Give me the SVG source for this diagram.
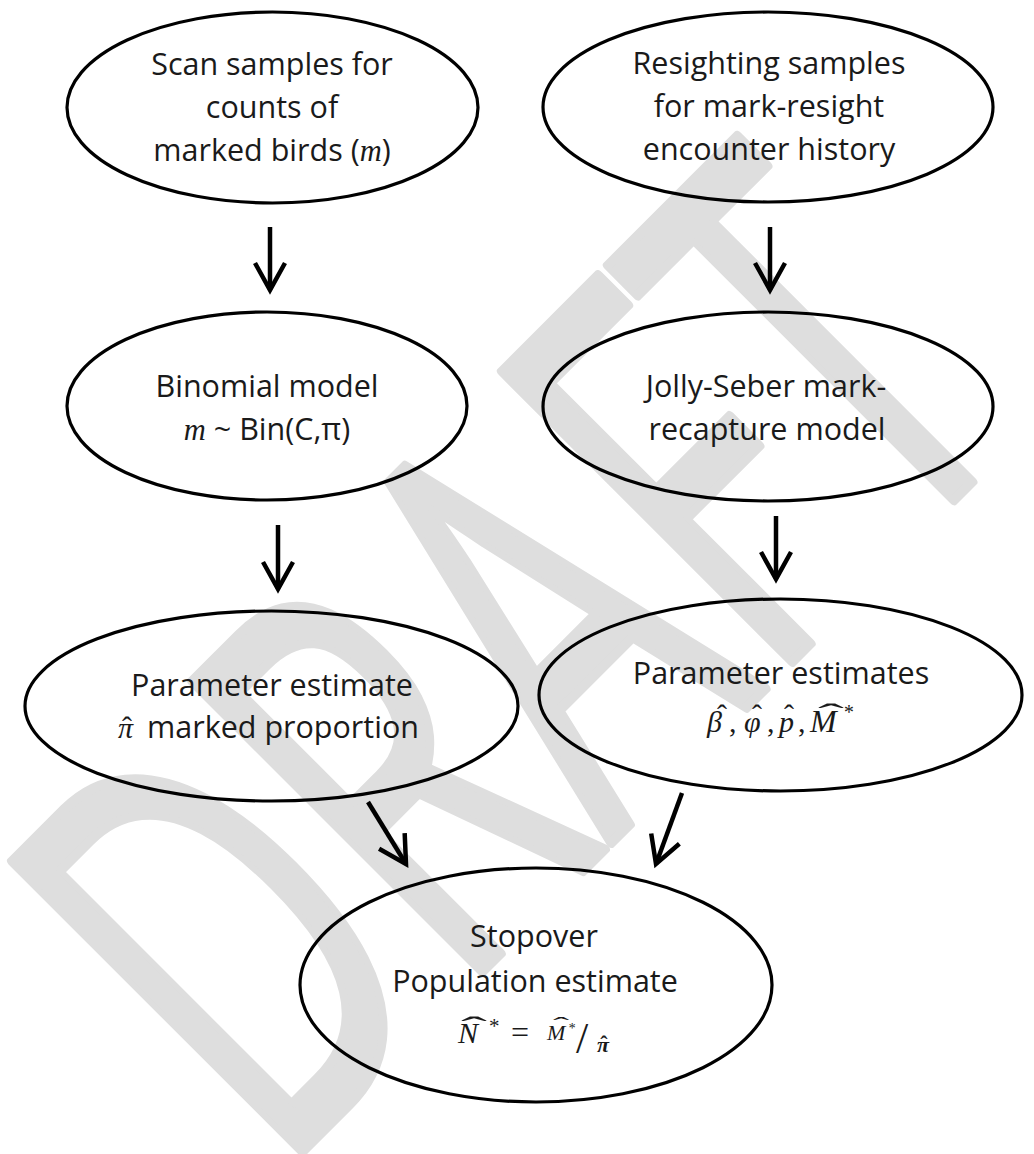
<svg xmlns="http://www.w3.org/2000/svg" width="1034" height="1154" viewBox="0 0 1034 1154">
<style>
.node ellipse{fill:none;stroke:#000;stroke-width:3.2}
.lbl{font-family:"Open Sans","Noto Sans","DejaVu Sans",sans-serif;font-size:30.5px;fill:#1a1a1a;text-anchor:middle}
.lbs{font-family:"Open Sans","Noto Sans","DejaVu Sans",sans-serif;font-size:30.5px;fill:#1a1a1a}
.math{font-family:"Liberation Serif","DejaVu Serif",serif;font-style:italic;fill:#1a1a1a}
.up{font-style:normal}
.hat{font-family:"Liberation Serif","DejaVu Serif",serif;fill:#1a1a1a;text-anchor:middle}
.conn path{fill:none;stroke:#000;stroke-width:4.5}
.wm{font-family:"Open Sans","Noto Sans",sans-serif;font-size:575px;fill:#dedede;stroke:#dedede;stroke-width:10;stroke-linejoin:round;font-kerning:none}
</style>
<defs>
<marker id="ah" viewBox="-34 -20 42 40" refX="0" refY="0" markerWidth="42" markerHeight="40" orient="auto" markerUnits="userSpaceOnUse">
<path d="M-27,-15 L0,0 L-27,15" fill="none" stroke="#000" stroke-width="4.5"/>
</marker>
</defs>
<rect width="1034" height="1154" fill="#fff"/>
<g id="watermark">
<text class="wm" transform="translate(277,1177) rotate(-45) scale(0.61,1)" x="0" y="0">DRAFT</text>
</g>
<g id="connectors" class="conn">
<path d="M270,227 L270,290" marker-end="url(#ah)"/>
<path d="M770,227 L770,290" marker-end="url(#ah)"/>
<path d="M278,525 L278,589" marker-end="url(#ah)"/>
<path d="M776,516 L776,579" marker-end="url(#ah)"/>
<path d="M368,802 L406,864" marker-end="url(#ah)"/>
<path d="M682,793 L656,864" marker-end="url(#ah)"/>
</g>
<g id="n1" class="node">
<ellipse cx="272.5" cy="107.5" rx="205.5" ry="95.5"/>
<text class="lbl" x="272" y="75">Scan samples for</text>
<text class="lbl" x="272" y="118">counts of</text>
<text class="lbl" x="272" y="161">marked birds (<tspan class="math">m</tspan>)</text>
</g>
<g id="n2" class="node">
<ellipse cx="768" cy="107" rx="225" ry="95"/>
<text class="lbl" x="769" y="74">Resighting samples</text>
<text class="lbl" x="769" y="117">for mark-resight</text>
<text class="lbl" x="769" y="160">encounter history</text>
</g>
<g id="n3" class="node">
<ellipse cx="267" cy="406" rx="200" ry="94"/>
<text class="lbl" x="267" y="397">Binomial model</text>
<text class="lbl" x="267" y="440"><tspan class="math">m</tspan> ~ Bin(C,π)</text>
</g>
<g id="n4" class="node">
<ellipse cx="768" cy="406.5" rx="225" ry="94.5"/>
<text class="lbl" x="766" y="397">Jolly-Seber mark-</text>
<text class="lbl" x="767" y="440">recapture model</text>
</g>
<g id="n5" class="node">
<ellipse cx="271.5" cy="706" rx="246.5" ry="95"/>
<text class="lbl" x="272" y="696">Parameter estimate</text>
<text class="math" x="118" y="738" font-size="30">π</text>
<text class="hat" x="127" y="737" font-size="30">ˆ</text>
<text class="lbs" x="147" y="738">marked proportion</text>
</g>
<g id="n6" class="node">
<ellipse cx="780.5" cy="695" rx="241.5" ry="96"/>
<text class="lbl" x="781" y="684">Parameter estimates</text>
<text class="math" font-size="30" y="732"><tspan x="707">β</tspan><tspan class="up" x="729">,</tspan><tspan x="744">φ</tspan><tspan class="up" x="767">,</tspan><tspan x="779">p</tspan><tspan class="up" x="798">,</tspan><tspan x="810" font-size="32">M</tspan><tspan x="843" y="719" font-size="20">*</tspan></text>
<text class="hat" x="722" y="725" font-size="30">ˆ</text>
<text class="hat" x="757" y="725" font-size="30">ˆ</text>
<text class="hat" x="789" y="725" font-size="30">ˆ</text>
<text class="hat" transform="translate(831,724) scale(2.6,1)" font-size="30">ˆ</text>
</g>
<g id="n7" class="node">
<ellipse cx="536" cy="985" rx="236" ry="117"/>
<text class="lbl" x="534" y="947">Stopover</text>
<text class="lbl" x="535" y="992">Population estimate</text>
<text class="math" x="458" y="1043" font-size="30">N</text>
<text class="hat" transform="translate(474,1037) scale(2.6,1)" font-size="30">ˆ</text>
<text class="math" x="488" y="1033" font-size="21">*</text>
<text class="math up" x="511" y="1043" font-size="32">=</text>
<text class="math" x="547" y="1040" font-size="22">M</text>
<text class="hat" transform="translate(561,1032) scale(2.2,1)" font-size="22">ˆ</text>
<text class="math" x="568" y="1033" font-size="14">*</text>
<text class="math up" x="576" y="1053" font-size="44">/</text>
<text class="math" x="597" y="1052" font-size="22" font-weight="bold">π</text>
<text class="hat" x="604" y="1051" font-size="22" font-weight="bold">ˆ</text>
</g>
</svg>
